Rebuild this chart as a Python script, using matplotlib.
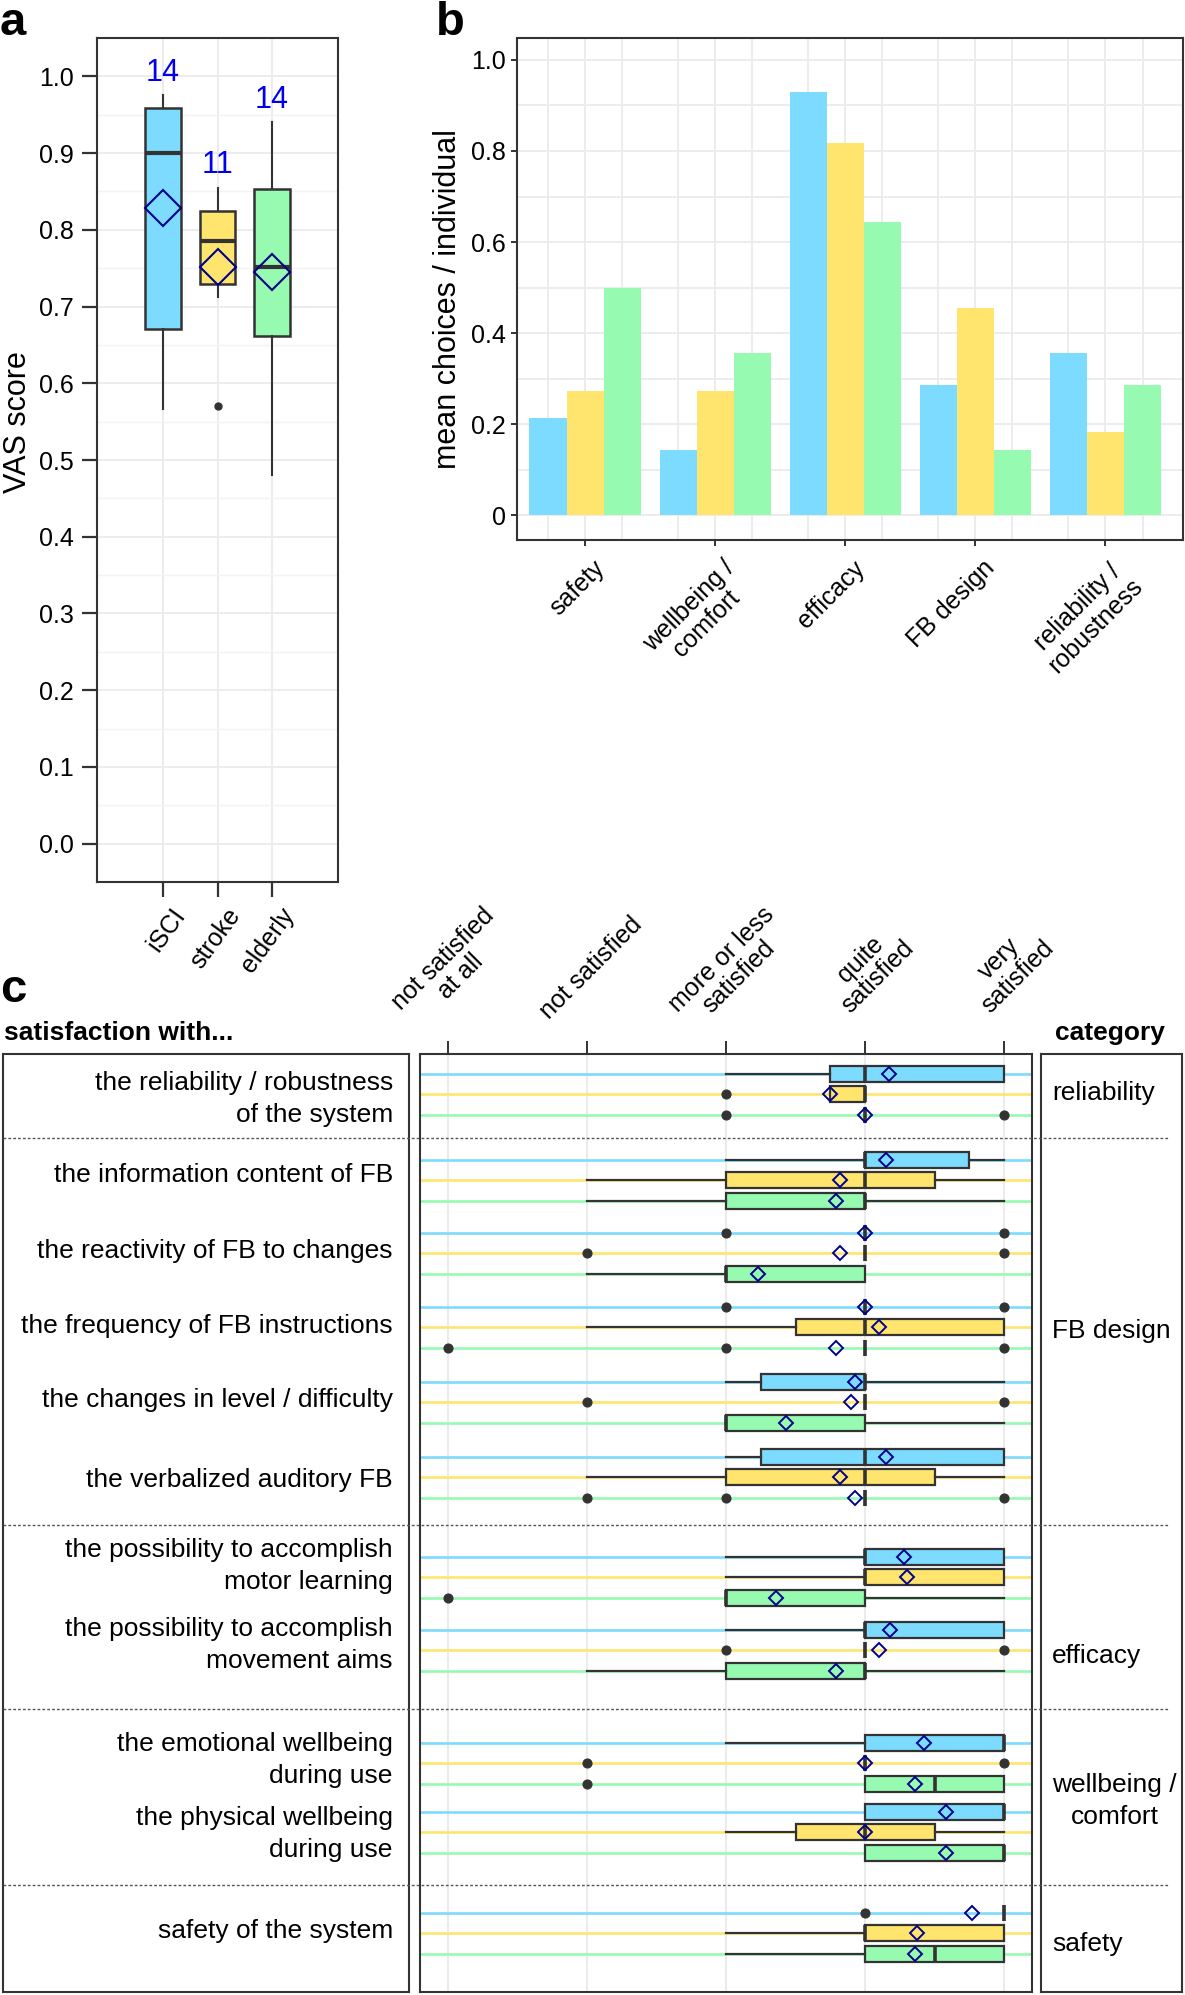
import matplotlib
matplotlib.use("Agg")
import matplotlib.pyplot as plt
import matplotlib.transforms as mtransforms
import numpy as np

plt.rcParams["font.family"] = ["Liberation Sans", "DejaVu Sans"]

W, H, DPI = 1185, 1995, 100

BLUE, YELLOW, GREEN = "#7CDBFF", "#FFE46E", "#96FAB0"
COLORS = [BLUE, YELLOW, GREEN]
DARK = "#333333"
GRID = "#EBEBEB"
NAVY = "#00008B"

# ---------------- panel a: VAS score boxplots ----------------
groups = ["iSCI", "stroke", "elderly"]
vas_n = [14, 11, 14]
vas_whislo = [0.566, 0.712, 0.480]
vas_q1 = [0.671, 0.730, 0.661]
vas_med = [0.900, 0.786, 0.751]
vas_q3 = [0.959, 0.825, 0.853]
vas_whishi = [0.976, 0.855, 0.940]
vas_mean = [0.829, 0.751, 0.745]
vas_fliers = [[], [0.570], []]

# ---------------- panel b: mean choices / individual ----------------
choice_cats = ["safety", "wellbeing /\ncomfort", "efficacy", "FB design",
               "reliability /\nrobustness"]
choice_iscI = [0.214, 0.143, 0.929, 0.286, 0.357]
choice_stroke = [0.273, 0.273, 0.818, 0.455, 0.182]
choice_elderly = [0.500, 0.357, 0.643, 0.143, 0.286]

# ---------------- panel c: satisfaction ----------------
sat_levels = ["not satisfied\nat all", "not satisfied", "more or less\nsatisfied",
              "quite\nsatisfied", "very\nsatisfied"]
sat_items = ["the reliability / robustness\nof the system",
             "the information content of FB",
             "the reactivity of FB to changes",
             "the frequency of FB instructions",
             "the changes in level / difficulty",
             "the verbalized auditory FB",
             "the possibility to accomplish\nmotor learning",
             "the possibility to accomplish\nmovement aims",
             "the emotional wellbeing\nduring use",
             "the physical wellbeing\nduring use",
             "safety of the system"]
sat_categories = ["reliability", "FB design", "efficacy", "wellbeing /\ncomfort", "safety"]

# one row per item, columns: iSCI, stroke, elderly
sat_whislo = [[3, 3.75, 4], [3, 2, 2], [4, 4, 2], [4, 2, 4], [3, 4, 3], [3, 2, 4],
              [3, 3, 3], [3, 4, 2], [3, 4, 4], [4, 3, 4], [5, 3, 3]]
sat_q1 = [[3.75, 3.75, 4], [4, 3, 3], [4, 4, 3], [4, 3.5, 4], [3.25, 4, 3], [3.25, 3, 4],
          [4, 4, 3], [4, 4, 3], [4, 4, 4], [4, 3.5, 4], [5, 4, 4]]
sat_med = [[4, 4, 4], [4, 4, 4], [4, 4, 3], [4, 4, 4], [4, 4, 3], [4, 4, 4],
           [4, 4, 3], [4, 4, 4], [5, 4, 4.5], [5, 4, 5], [5, 4, 4.5]]
sat_q3 = [[5, 4, 4], [4.75, 4.5, 4], [4, 4, 4], [4, 5, 4], [4, 4, 4], [5, 4.5, 4],
          [5, 5, 4], [5, 4, 4], [5, 4, 5], [5, 4.5, 5], [5, 5, 5]]
sat_whishi = [[5, 4, 4], [5, 5, 5], [4, 4, 4], [4, 5, 4], [5, 4, 5], [5, 5, 4],
              [5, 5, 5], [5, 4, 5], [5, 4, 5], [5, 5, 5], [5, 5, 5]]
sat_mean = [[4.17, 3.75, 4.00], [4.15, 3.82, 3.79], [4.00, 3.82, 3.23], [4.00, 4.10, 3.79],
            [3.93, 3.90, 3.43], [4.15, 3.82, 3.93], [4.28, 4.30, 3.36], [4.18, 4.10, 3.79],
            [4.42, 4.00, 4.36], [4.58, 4.00, 4.58], [4.77, 4.37, 4.36]]
sat_fliers = [[[], [3], [3, 5]], [[], [], []], [[3, 5], [2, 5], []], [[3, 5], [], [1, 3, 5]],
              [[], [2, 5], []], [[], [], [2, 3, 5]], [[], [], [1]], [[], [3, 5], []],
              [[], [2, 5], [2]], [[], [], []], [[4], [], []]]

# layout of panel c (pixels from the top of the panel box)
ROW_Y = [40, 126, 199, 273, 348, 423, 523, 596, 709, 778, 879]
SUB_Y = [-20.5, 0, 20.5]
SEP_Y = [84, 471, 655, 831]
LABEL_Y = [45, 121, 197, 272, 346, 426, 512, 591, 706, 780, 877]
CAT_Y = [39, 277, 602, 747, 890]
PANEL_H = 938

fig = plt.figure(figsize=(W / DPI, H / DPI), dpi=DPI)


def px_axes(x0, y0, x1, y1):
    return fig.add_axes([x0 / W, 1 - y1 / H, (x1 - x0) / W, (y1 - y0) / H])


def frame(ax, lw=1.5):
    for s in ax.spines.values():
        s.set_color(DARK)
        s.set_linewidth(lw)


# ---------------- panel a ----------------
ax = px_axes(97, 38, 338, 882)
stats = []
for i in range(3):
    stats.append(dict(whislo=vas_whislo[i], q1=vas_q1[i], med=vas_med[i], q3=vas_q3[i],
                      whishi=vas_whishi[i], mean=vas_mean[i], fliers=vas_fliers[i]))
pos = [1, 2, 3]
bp = ax.bxp(stats, positions=pos, widths=0.66, patch_artist=True, showmeans=True,
            showcaps=False, manage_ticks=False,
            boxprops=dict(edgecolor=DARK, linewidth=1.8),
            medianprops=dict(color=DARK, linewidth=3),
            whiskerprops=dict(color=DARK, linewidth=1.5),
            flierprops=dict(marker="o", markerfacecolor=DARK, markeredgecolor=DARK, markersize=5),
            meanprops=dict(marker="D", markerfacecolor="none", markeredgecolor=NAVY,
                           markersize=18, markeredgewidth=1.5),
            zorder=3)
for patch, c in zip(bp["boxes"], COLORS):
    patch.set_facecolor(c)
for p, n, hi in zip(pos, vas_n, vas_whishi):
    ax.text(p, hi + 0.029, str(n), color="#0000EE", ha="center", va="center", fontsize=22)

ax.set_xlim(-0.21, 4.21)
ax.set_ylim(-0.05, 1.05)
ax.set_yticks(np.arange(0, 1.01, 0.1))
ax.set_yticklabels([f"{v:.1f}" for v in np.arange(0, 1.01, 0.1)])
ax.set_yticks(np.arange(0.05, 1.0, 0.1), minor=True)
ax.set_xticks(pos)
ax.set_xticklabels([])
ax.grid(True, which="major", color=GRID, lw=1.3, zorder=0)
ax.grid(True, which="minor", axis="y", color="#F3F3F3", lw=1.0, zorder=0)
ax.set_axisbelow(True)
ax.tick_params(which="major", length=10.5, width=1.6, color=DARK, labelsize=18, pad=6)
ax.tick_params(which="minor", length=0)
frame(ax)
tf = ax.get_xaxis_transform() + mtransforms.ScaledTranslation(8 / DPI, -22 / DPI, fig.dpi_scale_trans)
for p, g in zip(pos, groups):
    ax.text(p, 0, g, transform=tf, rotation=54, rotation_mode="anchor",
            ha="right", va="top", fontsize=18)
fig.text(18 / W, 1 - 422 / H, "VAS score", rotation=90, ha="center", va="center", fontsize=22)
fig.text(0 / W, 1 - 35 / H, "a", fontsize=34, fontweight="bold", va="baseline")

# ---------------- panel b ----------------
axb = px_axes(517, 38, 1183, 540)
xc = np.arange(1, 6)
bw = 0.285
offs = [-bw, 0, bw]
for vals, c, o in zip([choice_iscI, choice_stroke, choice_elderly], COLORS, offs):
    axb.bar(xc + o, vals, width=bw, color=c, zorder=2)
axb.set_xlim(0.477, 5.596)
axb.set_ylim(-0.054, 1.048)
axb.set_yticks([0, 0.2, 0.4, 0.6, 0.8, 1.0])
axb.set_yticklabels(["0", "0.2", "0.4", "0.6", "0.8", "1.0"])
axb.set_yticks([0.1, 0.3, 0.5, 0.7, 0.9], minor=True)
axb.set_xticks(xc)
axb.set_xticklabels([])
axb.set_xticks(np.concatenate([xc + o for o in offs]), minor=True)
axb.grid(True, which="both", color=GRID, lw=1.3, zorder=0)
axb.set_axisbelow(True)
axb.tick_params(which="major", length=4, width=1.4, color=DARK, labelsize=18, pad=4)
axb.tick_params(which="minor", length=0)
frame(axb)
tfb = axb.get_xaxis_transform() + mtransforms.ScaledTranslation(7 / DPI, -16 / DPI, fig.dpi_scale_trans)
for x, lab in zip(xc, choice_cats):
    axb.text(x, 0, lab, transform=tfb, rotation=45, rotation_mode="anchor",
             ha="right", va="top", multialignment="center", fontsize=18, linespacing=1.05)
fig.text(448 / W, 1 - 299 / H, "mean choices / individual", rotation=90,
         ha="center", va="center", fontsize=22)
fig.text(436 / W, 1 - 35 / H, "b", fontsize=34, fontweight="bold", va="baseline")

# ---------------- panel c ----------------
PX0, PY0, PX1, PY1 = 420, 1054, 1032, 1992
axc = px_axes(PX0, PY0, PX1, PY1)
axc.set_xlim(0.8, 5.2)
axc.set_ylim(PANEL_H, 0)
for g in range(3):
    ys = [ROW_Y[i] + SUB_Y[g] for i in range(len(sat_items))]
    axc.hlines(ys, 0.8, 5.2, color=COLORS[g], lw=1.9, zorder=1.5)
    st = []
    for i in range(len(sat_items)):
        st.append(dict(whislo=sat_whislo[i][g], q1=sat_q1[i][g], med=sat_med[i][g],
                       q3=sat_q3[i][g], whishi=sat_whishi[i][g], mean=sat_mean[i][g],
                       fliers=sat_fliers[i][g]))
    b = axc.bxp(st, positions=ys, widths=16, orientation="horizontal", patch_artist=True,
                showmeans=True, showcaps=False, manage_ticks=False,
                boxprops=dict(facecolor=COLORS[g], edgecolor=DARK, linewidth=1.6),
                medianprops=dict(color=DARK, linewidth=2.6),
                whiskerprops=dict(color=DARK, linewidth=1.6),
                flierprops=dict(marker="o", markerfacecolor=DARK, markeredgecolor=DARK,
                                markersize=6.3),
                meanprops=dict(marker="D", markerfacecolor="none", markeredgecolor=NAVY,
                               markersize=7, markeredgewidth=1.4),
                zorder=3)
axc.xaxis.tick_top()
axc.set_xticks([1, 2, 3, 4, 5])
axc.set_xticklabels([])
axc.set_yticks([])
axc.grid(True, axis="x", color=GRID, lw=1.5, zorder=0)
axc.set_axisbelow(True)
axc.tick_params(axis="x", length=9.5, width=1.4, color=DARK)
frame(axc)
for k, lab in enumerate(sat_levels, start=1):
    axc.text(k + 0.03, 1 + (PY0 - 968) / PANEL_H, lab, transform=axc.get_xaxis_transform(),
             rotation=45, rotation_mode="anchor", ha="center", va="center",
             multialignment="center", fontsize=18, linespacing=1.05)

# item label box
axl = px_axes(3, PY0, 409, PY1)
axl.set_xlim(0, 1)
axl.set_ylim(PANEL_H, 0)
axl.set_xticks([])
axl.set_yticks([])
frame(axl)
for y, lab in zip(LABEL_Y, sat_items):
    axl.text(0.960, y, lab, ha="right", va="center", multialignment="right",
             fontsize=19, linespacing=1.42)

# category box
axr = px_axes(1041, PY0, 1182, PY1)
axr.set_xlim(0, 1)
axr.set_ylim(PANEL_H, 0)
axr.set_xticks([])
axr.set_yticks([])
frame(axr)
for y, lab in zip(CAT_Y, sat_categories):
    axr.text(0.08, y, lab, ha="left", va="center", multialignment="center",
             fontsize=19, linespacing=1.38)

# dashed separators across all three boxes
axs = px_axes(3, PY0, 1170, PY1)
axs.set_xlim(0, 1)
axs.set_ylim(PANEL_H, 0)
axs.axis("off")
for y in SEP_Y:
    axs.axhline(y, color="#555555", lw=1.0, ls=(0, (2, 1.5)))

fig.text(4 / W, 1 - 1033 / H, "satisfaction with...", fontsize=19, fontweight="bold", va="center")
fig.text(1055 / W, 1 - 1033 / H, "category", fontsize=19, fontweight="bold", va="center")
fig.text(0 / W, 1 - 1002 / H, "c", fontsize=34, fontweight="bold", va="baseline")

fig.savefig("out.png", dpi=DPI)
